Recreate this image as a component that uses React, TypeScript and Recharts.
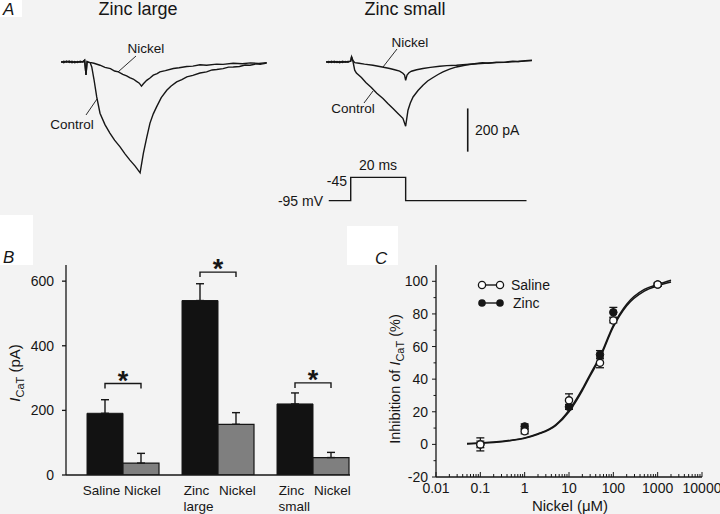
import React from 'react';
import {
  LineChart, Line, XAxis, YAxis, ReferenceLine,
  BarChart, Bar, ErrorBar, LabelList,
  ComposedChart, Scatter,
} from 'recharts';

const FONT = '"Liberation Sans", Arial, Helvetica, sans-serif';
const INK = '#161616';
const BG = '#f3f3f3';

// ---- Panel A: current traces, [time (ms), current (pA)]
const largeControl: [number, number][] = [
  [-9, 2], [-8, -3], [-7, 4], [-6, -2], [-5, 3], [-4, -4], [-3, 2], [-2, -1], [-1, 3],
  [-0.4, 8], [0.1, -60], [0.5, 2], [1, -2], [1.6, -3], [2.2, -23], [3, -80], [4, -162],
  [5.2, -237], [7, -290], [8.8, -329], [10.5, -362], [12.5, -393], [14.3, -425], [16.1, -454],
  [18, -482], [19.8, -513], [21, -422], [22.2, -350], [23.4, -283], [24.6, -240], [25.8, -208],
  [27.5, -165], [29.5, -131], [31, -112], [33.1, -92], [35, -82], [36.8, -69], [39, -62],
  [41.6, -51], [44, -46], [46, -37], [47.7, -35], [50, -31], [52, -24], [53.7, -23], [56, -21],
  [58, -14], [59.8, -15], [62, -9], [63.5, -11], [65.9, -5],
];
const largeNickel: [number, number][] = [
  [-9, -2], [-8, 3], [-7, -1], [-6, 4], [-5, -3], [-4, 2], [-3, -2], [-2, 3], [-1, -1],
  [-0.4, 8], [0.1, -60], [0.5, 1], [1.5, -2], [3, -6], [5.2, -15], [7, -25], [9, -31],
  [10.5, -42], [11.9, -46], [13.5, -57], [14.9, -64], [16, -72], [17.3, -79], [18.5, -90],
  [19.5, -98], [20.3, -112], [21, -101], [22.2, -85], [23.4, -74], [24.6, -61], [26, -54],
  [27, -46], [29, -40], [31.9, -30], [34, -27], [36.8, -21], [39, -19], [41.6, -13], [44, -15],
  [47.7, -10], [50, -11], [53.7, -6], [57, -8], [60, -4], [63, -7], [65.9, -3],
];
const smallControl: [number, number][] = [
  [-9, 1], [-8, -3], [-7, 3], [-6, -2], [-5, 2], [-4, -3], [-3, 3], [-2, -1], [-1, 2],
  [0, 4], [0.3, 24], [0.7, 10], [1.45, -38], [2.07, -51], [3.9, -72], [5.5, -95], [7.5, -118],
  [9.5, -145], [11.75, -169], [13.5, -192], [15.4, -215], [17.2, -238], [19, -261], [20, -297],
  [20.85, -223], [21.7, -190], [22.7, -162], [24.5, -132], [26.3, -108], [28, -88], [30, -72],
  [31.8, -58], [33.6, -46], [36, -33], [38.5, -23], [42, -14], [45.7, -7], [48, -3], [50, -6],
  [53, -1], [56.7, 0], [59, 4], [61, 2], [63.5, 6], [66, 8],
];
const smallNickel: [number, number][] = [
  [-9, -1], [-8, 2], [-7, -2], [-6, 3], [-5, -2], [-4, 2], [-3, -3], [-2, 2], [-1, -1],
  [0, 4], [0.3, 24], [0.7, 8], [1.5, -3], [3, -6], [5, -10], [8.1, -15], [11, -22],
  [14.2, -30], [16, -36], [17.8, -42], [19, -52], [19.6, -61], [20, -85], [20.5, -61],
  [21.2, -50], [22.1, -43], [24, -36], [26.3, -30], [29, -25], [32.4, -20], [35, -17],
  [38.5, -15], [42, -12], [46, -8], [50, -5], [53, -3], [56, -2], [59, 1], [61, 2], [63.5, 4], [66, 6],
];
// voltage protocol, [time (ms), membrane potential (mV)]
const protocol: [number, number][] = [[-8, -95], [0, -45], [20, -95], [64, -95]];
const scaleBarPA = 200;

// ---- Panel B: mean I_CaT (pA) with SEM
const groups = ['Saline', 'Zinc large', 'Zinc small'];
const groupWord1 = ['Saline', 'Zinc', 'Zinc'];
const groupWord2 = ['', 'large', 'small'];
const controlCurrent = [191, 540, 220];
const controlSem = [42, 52, 34];
const nickelCurrent = [37, 157, 54];
const nickelSem = [30, 36, 16];
const sigLevel = [283, 628, 285];
const bTicks = [0, 200, 400, 600];

// ---- Panel C: inhibition (%) vs nickel (µM)
const nickelConc = [0.1, 1, 10, 50, 100, 1000];
const salineInhib = [0, 8, 27, 50, 76, 98];
const salineErr = [2, 1.5, 4, 3, 1.5, 1];
const zincInhib = [0, 11, 23, 55, 81, 98];
const zincErr = [4, 1.5, 1.5, 2.5, 3, 1];
const fitConc = [0.05, 0.1, 0.2, 0.5, 1, 2, 5, 10, 20, 30, 50, 100, 200, 500, 1000, 2000];
const fitSaline = [0.5, 0.9, 1.4, 2.6, 4, 6.5, 12, 21, 34, 43, 54, 73, 86, 95, 98, 100.6];
const fitZinc = [0.3, 0.7, 1.2, 2.4, 3.8, 6.2, 11.5, 20, 33, 42, 53, 72, 85, 94, 97.3, 99.6];
const cXMajor = [0.01, 0.1, 1, 10, 100, 1000, 10000];
const cXLabels = ['0.01', '0.1', '1', '10', '100', '1000', '10000'];
const cYMajor = [-20, 0, 20, 40, 60, 80, 100];
const cYMinor = [-10, 10, 30, 50, 70, 90];

const toTV = (a: [number, number][]) => a.map(([t, v]) => ({ t, v }));

const cXTicks: number[] = [];
cXMajor.forEach((d, i) => {
  cXTicks.push(d);
  if (i < cXMajor.length - 1) for (let m = 2; m <= 9; m++) cXTicks.push(d * m);
});
const cYTicks = [...cYMajor, ...cYMinor].sort((a, b) => a - b);

const barData = groups.map((g, i) => ({
  group: g,
  control: controlCurrent[i],
  nickel: nickelCurrent[i],
  controlErr: [0, controlSem[i]],
  nickelErr: [0, nickelSem[i]],
}));
const salinePts = nickelConc.map((x, i) => ({ x, y: salineInhib[i], err: salineErr[i] }));
const zincPts = nickelConc.map((x, i) => ({ x, y: zincInhib[i], err: zincErr[i] }));
const fitSalinePts = fitConc.map((x, i) => ({ x, y: fitSaline[i] }));
const fitZincPts = fitConc.map((x, i) => ({ x, y: fitZinc[i] }));

const txt = { fontFamily: FONT, fill: INK };

function TraceChart({ control, nickel, left, children }: any) {
  return (
    <div style={{ position: 'absolute', left, top: 49 }}>
      <LineChart width={206} height={134} margin={{ top: 0, right: 0, bottom: 0, left: 0 }}>
        <XAxis type="number" dataKey="t" domain={[-9, 66]} hide allowDataOverflow />
        <YAxis type="number" domain={[-560, 60]} hide allowDataOverflow />
        <Line data={toTV(nickel)} dataKey="v" stroke={INK} strokeWidth={1.4} dot={false} isAnimationActive={false} type="linear" />
        <Line data={toTV(control)} dataKey="v" stroke={INK} strokeWidth={1.4} dot={false} isAnimationActive={false} type="linear" />
        {children}
      </LineChart>
    </div>
  );
}

const renderBracket = (props: any) => {
  const vb = props.viewBox && props.viewBox.width != null ? props.viewBox : props;
  const { x, y, width, height } = vb;
  const i = props.index ?? 0;
  const k = height / nickelCurrent[i];
  const by = y + height - sigLevel[i] * k;
  const x1 = x - width / 2;
  const x2 = x + width / 2;
  return (
    <g>
      <path d={`M${x1},${by + 5}V${by}H${x2}V${by + 5}`} fill="none" stroke={INK} strokeWidth={1.4} />
      <text x={(x1 + x2) / 2} y={by + 6} textAnchor="middle" fontSize={27} fontWeight="bold" {...txt}>*</text>
    </g>
  );
};

const GroupTick = (props: any) => {
  const { x, y, index } = props;
  return (
    <g>
      <text x={x - 21} y={y + 12} textAnchor="middle" fontSize={13.5} {...txt}>{groupWord1[index]}</text>
      <text x={x + 20} y={y + 12} textAnchor="middle" fontSize={13.5} {...txt}>Nickel</text>
      {groupWord2[index] && (
        <text x={x - 34} y={y + 28} textAnchor="start" fontSize={13.5} {...txt}>{groupWord2[index]}</text>
      )}
    </g>
  );
};

const LogTick = (props: any) => {
  const { x, y, payload } = props;
  const v = payload.value;
  const mi = cXMajor.findIndex((m) => Math.abs(m - v) / m < 1e-6);
  return (
    <g>
      <line x1={x} y1={y} x2={x} y2={y - (mi >= 0 ? 5 : 3)} stroke={INK} strokeWidth={1} />
      {mi >= 0 && (
        <text x={x} y={y + 16} textAnchor="middle" fontSize={14} {...txt}>{cXLabels[mi]}</text>
      )}
    </g>
  );
};

const CYTick = (props: any) => {
  const { x, y, payload } = props;
  const major = cYMajor.includes(payload.value);
  return (
    <g>
      <line x1={x} y1={y} x2={x - (major ? 4 : 2.5)} y2={y} stroke={INK} strokeWidth={1} />
      {major && (
        <text x={x - 8} y={y + 5} textAnchor="end" fontSize={14} {...txt}>{payload.value}</text>
      )}
    </g>
  );
};

const openDot = (p: any) => <circle cx={p.cx} cy={p.cy} r={3.6} fill="#fff" stroke={INK} strokeWidth={1.3} />;
const fullDot = (p: any) => <circle cx={p.cx} cy={p.cy} r={3.8} fill={INK} stroke={INK} strokeWidth={1} />;

export default function App() {
  return (
    <div style={{ position: 'absolute', left: 0, top: 0, width: 720, height: 514, background: BG, overflow: 'hidden', fontFamily: FONT }}>
      <TraceChart control={largeControl} nickel={largeNickel} left={61} />
      <TraceChart control={smallControl} nickel={smallNickel} left={326}>
        <ReferenceLine
          segment={[{ x: 42.6, y: -215 }, { x: 42.6, y: -215 - scaleBarPA }]}
          stroke={INK}
          strokeWidth={1.6}
          ifOverflow="visible"
        />
      </TraceChart>

      <div style={{ position: 'absolute', left: 326, top: 175 }}>
        <LineChart width={206} height={28} margin={{ top: 0, right: 0, bottom: 0, left: 0 }}>
          <XAxis type="number" dataKey="t" domain={[-9, 66]} hide allowDataOverflow />
          <YAxis type="number" domain={[-100, -40]} hide allowDataOverflow />
          <Line data={toTV(protocol)} dataKey="v" type="stepAfter" stroke={INK} strokeWidth={1.4} dot={false} isAnimationActive={false} />
        </LineChart>
      </div>

      <div style={{ position: 'absolute', left: 0, top: 240 }}>
        <BarChart width={370} height={274} data={barData} margin={{ top: 25, right: 20, bottom: 0, left: 0 }} barGap={0} barSize={36}>
          <XAxis dataKey="group" tickLine={false} stroke={INK} strokeWidth={1.3} height={39} padding={{ left: 9, right: -10 }} tick={<GroupTick />} interval={0} />
          <YAxis domain={[0, 650]} ticks={bTicks} width={66} stroke={INK} strokeWidth={1.3} tickSize={4} tickMargin={8} tick={{ fontSize: 14, fill: INK, fontFamily: FONT }} allowDataOverflow />
          <Bar dataKey="control" fill="#121212" stroke={INK} strokeWidth={1} isAnimationActive={false}>
            <ErrorBar dataKey="controlErr" width={4} stroke={INK} strokeWidth={1.4} direction="y" />
          </Bar>
          <Bar dataKey="nickel" fill="#7f7f7f" stroke={INK} strokeWidth={1.2} isAnimationActive={false}>
            <ErrorBar dataKey="nickelErr" width={4} stroke={INK} strokeWidth={1.4} direction="y" />
            <LabelList dataKey="nickel" content={renderBracket} />
          </Bar>
        </BarChart>
      </div>

      <div style={{ position: 'absolute', left: 360, top: 240 }}>
        <ComposedChart width={360} height={274} margin={{ top: 25, right: 18, bottom: 0, left: 0 }}>
          <XAxis type="number" dataKey="x" scale="log" domain={[0.01, 10000]} ticks={cXTicks} interval={0}
            tickSize={0} tickMargin={0} tickLine={false} tick={(p: any) => <LogTick {...p} />} height={37}
            stroke={INK} strokeWidth={1.3} allowDataOverflow />
          <YAxis type="number" dataKey="y" domain={[-20, 110]} ticks={cYTicks} interval={0}
            tickSize={0} tickMargin={0} tickLine={false} tick={(p: any) => <CYTick {...p} />} width={76}
            stroke={INK} strokeWidth={1.3} allowDataOverflow />
          <Line data={fitSalinePts} dataKey="y" type="monotone" stroke={INK} strokeWidth={1.5} dot={false} isAnimationActive={false} />
          <Line data={fitZincPts} dataKey="y" type="monotone" stroke={INK} strokeWidth={1.5} dot={false} isAnimationActive={false} />
          <Scatter data={zincPts} dataKey="y" shape={fullDot} isAnimationActive={false}>
            <ErrorBar dataKey="err" direction="y" width={4} stroke={INK} strokeWidth={1.3} />
          </Scatter>
          <Scatter data={salinePts} dataKey="y" shape={openDot} isAnimationActive={false}>
            <ErrorBar dataKey="err" direction="y" width={4} stroke={INK} strokeWidth={1.3} />
          </Scatter>
        </ComposedChart>
      </div>

      <svg width={720} height={514} style={{ position: 'absolute', left: 0, top: 0, pointerEvents: 'none' }}>
        <rect x={0} y={0} width={22} height={17} fill="#fff" />
        <rect x={0} y={215} width={33} height={50} fill="#fff" />
        <rect x={347} y={226} width={51} height={39} fill="#fff" />
        <text x={3} y={15} fontSize={17} fontStyle="italic" {...txt}>A</text>
        <text x={3} y={263} fontSize={17} fontStyle="italic" {...txt}>B</text>
        <text x={375} y={264} fontSize={17} fontStyle="italic" {...txt}>C</text>

        <text x={138} y={15} fontSize={18} textAnchor="middle" {...txt}>Zinc large</text>
        <text x={405} y={15} fontSize={18} textAnchor="middle" {...txt}>Zinc small</text>

        <text x={146} y={53} fontSize={13.5} textAnchor="middle" {...txt}>Nickel</text>
        <line x1={136} y1={56} x2={118} y2={72} stroke={INK} strokeWidth={0.9} />
        <text x={72} y={129} fontSize={13.5} textAnchor="middle" {...txt}>Control</text>
        <line x1={86} y1={115} x2={97} y2={99} stroke={INK} strokeWidth={0.9} />
        <text x={410} y={47} fontSize={13.5} textAnchor="middle" {...txt}>Nickel</text>
        <line x1={397} y1={49} x2={383} y2={67} stroke={INK} strokeWidth={0.9} />
        <text x={353} y={113} fontSize={13.5} textAnchor="middle" {...txt}>Control</text>
        <line x1={364} y1={103} x2={373} y2={91} stroke={INK} strokeWidth={0.9} />

        <text x={475} y={135} fontSize={14} {...txt}>200 pA</text>
        <text x={378} y={170} fontSize={14} textAnchor="middle" {...txt}>20 ms</text>
        <text x={347} y={186} fontSize={14} textAnchor="end" {...txt}>-45</text>
        <text x={323} y={206} fontSize={14} textAnchor="end" {...txt}>-95 mV</text>

        <text transform="translate(20,373) rotate(-90)" fontSize={15} textAnchor="middle" {...txt}>
          <tspan fontStyle="italic">I</tspan>
          <tspan fontSize={11} dy={4}>CaT</tspan>
          <tspan dy={-4}> (pA)</tspan>
        </text>

        <text transform="translate(400,379) rotate(-90)" fontSize={14.5} textAnchor="middle" {...txt}>
          <tspan>Inhibition of </tspan>
          <tspan fontStyle="italic">I</tspan>
          <tspan fontSize={11} dy={4}>CaT</tspan>
          <tspan dy={-4}> (%)</tspan>
        </text>
        <text x={570} y={511} fontSize={15} textAnchor="middle" {...txt}>Nickel (μM)</text>

        <line x1={482} y1={285} x2={500} y2={285} stroke={INK} strokeWidth={1.4} />
        <circle cx={482} cy={285} r={3.6} fill="#fff" stroke={INK} strokeWidth={1.3} />
        <circle cx={500} cy={285} r={3.6} fill="#fff" stroke={INK} strokeWidth={1.3} />
        <text x={511} y={290} fontSize={14} {...txt}>Saline</text>
        <line x1={482} y1={303} x2={500} y2={303} stroke={INK} strokeWidth={1.4} />
        <circle cx={482} cy={303} r={3.8} fill={INK} />
        <circle cx={500} cy={303} r={3.8} fill={INK} />
        <text x={513} y={308} fontSize={14} {...txt}>Zinc</text>
      </svg>
    </div>
  );
}
